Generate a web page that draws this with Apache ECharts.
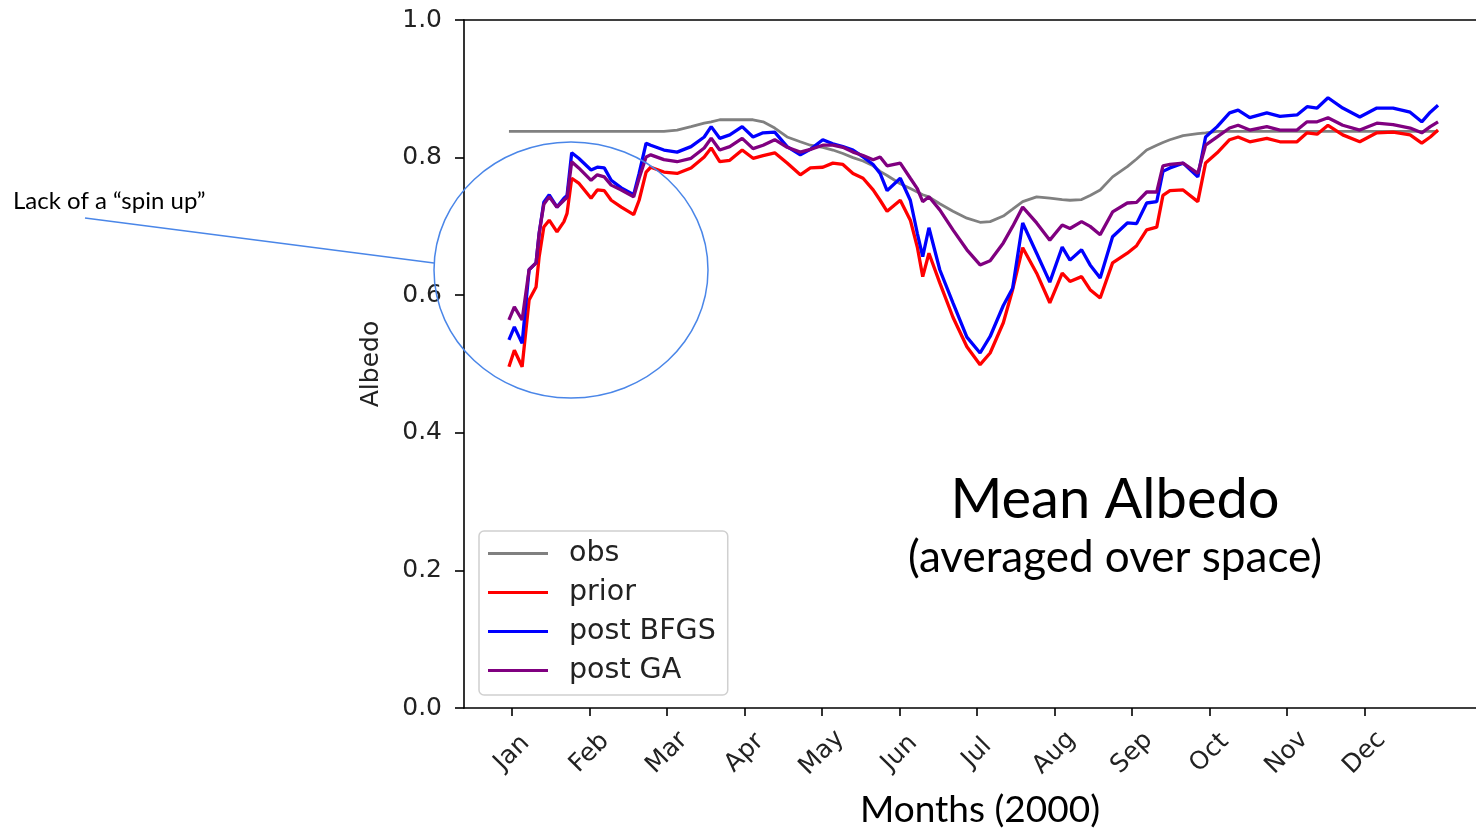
<!DOCTYPE html>
<html>
<head>
<meta charset="utf-8">
<script src="https://cdn.jsdelivr.net/npm/echarts@6/dist/echarts.min.js"></script>
<style>
html,body{margin:0;padding:0;background:#fff;}
#chart{width:1476px;height:829px;}
</style>
</head>
<body>
<div id="chart"></div>
<script>
// x position in months (0 = Jan, 11 = Dec)
var monthPos = [-0.04,0.03,0.13,0.22,0.31,0.35,0.41,0.48,0.58,0.67,0.71,0.77,0.86,1.02,1.10,1.19,1.28,1.41,1.57,1.64,
  1.73,1.79,1.96,2.13,2.31,2.48,2.57,2.68,2.81,2.97,3.11,3.24,3.39,3.55,3.72,3.85,4.01,4.14,4.27,4.40,
  4.53,4.66,4.75,4.84,5.01,5.14,5.23,5.30,5.38,5.52,5.69,5.87,6.04,6.17,6.34,6.46,6.59,6.77,6.94,7.10,
  7.20,7.35,7.46,7.59,7.75,7.94,8.06,8.19,8.32,8.40,8.49,8.66,8.85,8.95,9.10,9.26,9.37,9.52,9.74,9.91,
  10.13,10.26,10.39,10.53,10.72,10.94,11.16,11.37,11.59,11.74,11.85,11.95];
var obs = [0.838,0.838,0.838,0.838,0.838,0.838,0.838,0.838,0.838,0.838,0.838,0.838,0.838,0.838,0.838,0.838,0.838,0.838,0.838,0.838,
  0.838,0.838,0.838,0.840,0.845,0.850,0.852,0.855,0.855,0.855,0.855,0.852,0.843,0.830,0.823,0.818,0.815,0.811,0.806,0.800,
  0.795,0.788,0.780,0.774,0.762,0.755,0.750,0.746,0.743,0.733,0.722,0.712,0.706,0.707,0.715,0.725,0.736,0.743,0.741,0.739,
  0.738,0.739,0.745,0.753,0.772,0.787,0.798,0.811,0.818,0.822,0.826,0.832,0.835,0.836,0.838,0.838,0.838,0.838,0.838,0.838,
  0.838,0.838,0.838,0.838,0.838,0.838,0.838,0.838,0.838,0.838,0.838,0.838];
var prior = [0.496,0.520,0.496,0.593,0.612,0.656,0.699,0.709,0.692,0.707,0.719,0.770,0.763,0.741,0.753,0.752,0.738,0.728,0.717,0.738,
  0.779,0.786,0.779,0.777,0.785,0.801,0.814,0.794,0.796,0.811,0.799,0.803,0.807,0.792,0.775,0.785,0.786,0.792,0.790,0.777,
  0.770,0.753,0.738,0.722,0.738,0.709,0.670,0.627,0.661,0.618,0.568,0.525,0.499,0.516,0.560,0.608,0.669,0.632,0.589,0.632,
  0.620,0.627,0.608,0.596,0.647,0.661,0.672,0.695,0.699,0.745,0.752,0.753,0.736,0.792,0.807,0.826,0.830,0.823,0.828,0.823,
  0.823,0.836,0.834,0.847,0.833,0.823,0.836,0.837,0.833,0.821,0.830,0.840];
var postBFGS = [0.535,0.554,0.530,0.637,0.647,0.690,0.735,0.746,0.728,0.741,0.745,0.807,0.799,0.782,0.786,0.785,0.767,0.756,0.746,0.777,
  0.821,0.818,0.811,0.808,0.816,0.830,0.845,0.828,0.833,0.845,0.830,0.836,0.837,0.816,0.804,0.812,0.826,0.820,0.816,0.811,
  0.801,0.790,0.777,0.752,0.770,0.738,0.690,0.656,0.698,0.637,0.589,0.539,0.516,0.540,0.585,0.610,0.705,0.661,0.619,0.670,
  0.651,0.666,0.644,0.625,0.685,0.705,0.704,0.734,0.736,0.780,0.785,0.792,0.772,0.830,0.845,0.865,0.869,0.858,0.865,0.860,
  0.862,0.874,0.872,0.887,0.872,0.859,0.872,0.872,0.866,0.852,0.866,0.876];
var postGA = [0.564,0.583,0.564,0.637,0.647,0.690,0.732,0.743,0.728,0.738,0.742,0.794,0.785,0.767,0.775,0.772,0.760,0.753,0.743,0.770,
  0.801,0.804,0.797,0.794,0.799,0.814,0.828,0.811,0.816,0.828,0.813,0.818,0.826,0.815,0.808,0.812,0.818,0.818,0.815,0.808,
  0.803,0.797,0.801,0.788,0.792,0.770,0.755,0.736,0.743,0.724,0.695,0.666,0.644,0.650,0.676,0.700,0.728,0.705,0.680,0.702,
  0.697,0.707,0.700,0.688,0.721,0.734,0.735,0.750,0.750,0.788,0.790,0.792,0.777,0.818,0.830,0.843,0.847,0.840,0.845,0.840,
  0.840,0.852,0.852,0.858,0.847,0.840,0.850,0.848,0.843,0.836,0.845,0.852];
var monthLabels = ['Jan','Feb','Mar','Apr','May','Jun','Jul','Aug','Sep','Oct','Nov','Dec'];
var monthTicks = [0,1,2,3,4,5,6,7,8,9,10,11];
var seriesNames = ['obs','prior','post BFGS','post GA'];
var seriesColors = ['#808080','#ff0000','#0000ff','#800080'];

function pairs(ys){ return ys.map(function(v,i){ return [monthPos[i], v]; }); }
var seriesValues = [obs, prior, postBFGS, postGA];

var tickFont = 'DejaVu Sans';
var slideFont = 'Lato';

var chart = echarts.init(document.getElementById('chart'), null, {renderer:'canvas'});
chart.setOption({
  animation:false,
  backgroundColor:'#ffffff',
  grid:{left:464, right:0, top:20, bottom:121, containLabel:false, outerBoundsMode:'none'},
  xAxis:[{
    type:'value', min:-0.62, max:12.44, position:'bottom',
    axisLine:{show:true, onZero:false, lineStyle:{color:'#000', width:1.6}},
    axisTick:{show:true, customValues:monthTicks, length:8, lineStyle:{color:'#000', width:1.6}},
    splitLine:{show:false},
    axisLabel:{show:true, customValues:monthTicks, rotate:45, align:'center', verticalAlign:'middle', margin:45,
      fontFamily:tickFont, fontSize:25, color:'#222',
      formatter:function(v){ return monthLabels[Math.round(v)]; }},
    name:'Months (2000)', nameLocation:'middle', nameGap:84,
    nameTextStyle:{fontFamily:slideFont, fontSize:37, color:'#000', padding:[0,0,0,20]}
  },{
    type:'value', min:-0.62, max:12.44, position:'top',
    axisLine:{show:true, onZero:false, lineStyle:{color:'#000', width:1.6}},
    axisTick:{show:false}, axisLabel:{show:false}, splitLine:{show:false}
  }],
  yAxis:{
    type:'value', min:0, max:1, interval:0.2,
    axisLine:{show:true, onZero:false, lineStyle:{color:'#000', width:1.6}},
    axisTick:{show:true, length:9, lineStyle:{color:'#000', width:1.6}},
    splitLine:{show:false},
    axisLabel:{fontFamily:tickFont, fontSize:25, color:'#222', margin:22,
      formatter:function(v){ return v.toFixed(1); }},
    name:'Albedo', nameLocation:'middle', nameGap:80, nameRotate:90,
    nameTextStyle:{fontFamily:tickFont, fontSize:25, color:'#222'}
  },
  legend:{
    orient:'vertical', left:479, top:531,
    data:seriesNames.map(function(n){ return {name:n, icon:'rect'}; }),
    itemWidth:60, itemHeight:3, itemGap:10,
    padding:[8,12,10,9],
    backgroundColor:'rgba(255,255,255,0.85)', borderColor:'#d0d0d0', borderWidth:1.5, borderRadius:5,
    textStyle:{fontFamily:tickFont, fontSize:28.5, color:'#222', padding:[0,0,0,16]}
  },
  series: seriesNames.map(function(n,i){
    return {
      name:n, type:'line', xAxisIndex:0, data:pairs(seriesValues[i]),
      showSymbol:false, symbol:'none', smooth:false,
      lineStyle:{color:seriesColors[i], width: i===0 ? 2.8 : 3.3},
      itemStyle:{color:seriesColors[i]}, z: 2+i
    };
  }),
  graphic:[
    {type:'ellipse', shape:{cx:571, cy:270, rx:137, ry:128}, style:{fill:null, stroke:'#4a86e8', lineWidth:1.5}, z:100},
    {type:'line', shape:{x1:85, y1:218, x2:434, y2:263}, style:{stroke:'#4a86e8', lineWidth:1.5}, z:100},
    {type:'text', x:13, y:201, style:{text:'Lack of a \u201cspin up\u201d', fontFamily:slideFont, fontSize:24, fill:'#000', textVerticalAlign:'middle'}, z:100},
    {type:'text', x:1115, y:500, style:{text:'Mean Albedo', fontFamily:slideFont, fontSize:56, fill:'#000', textAlign:'center', textVerticalAlign:'middle'}, z:100},
    {type:'text', x:1115, y:558, style:{text:'(averaged over space)', fontFamily:slideFont, fontSize:44, fill:'#000', textAlign:'center', textVerticalAlign:'middle'}, z:100}
  ]
});
</script>
</body>
</html>
